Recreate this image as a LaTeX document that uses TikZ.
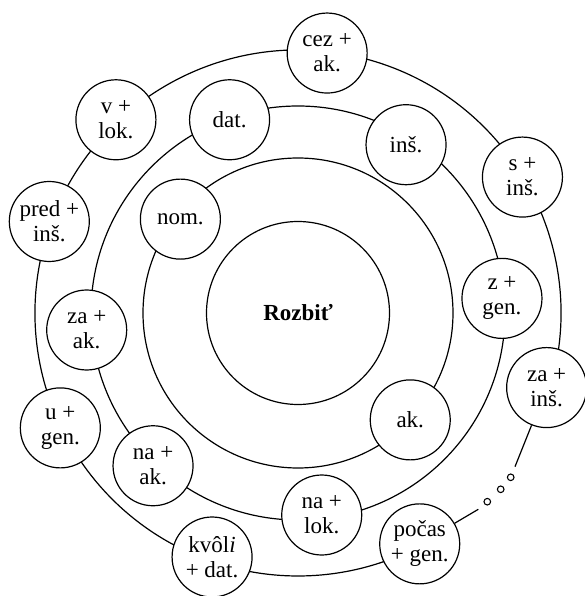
\documentclass[tikz,border=0pt]{standalone}
\usepackage{fontspec}
\setmainfont{Liberation Serif}
\tikzset{
  ring/.style={line width=1.2pt},
  casebox/.style={circle,draw,line width=1.2pt,fill=white,minimum size=80pt,
    inner sep=0pt,align=center,font=\fontsize{23}{25}\selectfont},
  verbbox/.style={circle,draw,line width=1.2pt,fill=white,minimum size=183pt,
    inner sep=0pt,font=\bfseries\fontsize{23}{25}\selectfont},
  gapdot/.style={line width=1.1pt}
}
\begin{document}
\begin{tikzpicture}[x=1pt,y=1pt]
\useasboundingbox (-298,-283) rectangle (287,313);
\coordinate (origin) at (0,0);
% Draw rings
\draw[ring] (origin) circle [radius=155];
\draw[ring] (origin) circle [radius=207];
\draw[ring] (-16.7:263) arc [start angle=-16.7, end angle=297.8, radius=263];
% Verb in the middle
\node[verbbox] (verb) at (origin) {Rozbi\v{t}};
% Inner ring
\node[casebox] (nom) at (141.4:150.5) {nom.};
\node[casebox] (ak) at (316.4:155) {ak.};
% Middle ring
\node[casebox] (dat) at (109.5:205) {dat.};
\node[casebox] (ins) at (57.3:200) {inš.};
\node[casebox] (zGen) at (4.1:204.5) {z +\\gen.};
\node[casebox] (naLok) at (276.7:203.4) {na +\\lok.};
\node[casebox] (naAk) at (226.5:210.6) {na +\\ak.};
\node[casebox] (zaAk) at (184.6:212) {za +\\ak.};
% Outer ring
\node[casebox] (cezAk) at (83.6:261.6) {cez +\\ak.};
\node[casebox] (sIns) at (31.2:262.4) {s +\\inš.};
\node[casebox] (zaIns) at (343.3:259.6) {za +\\inš.};
\node[casebox] (pocasGen) at (297.8:261) {počas\\+ gen.};
\node[casebox] (kvoliDat) at (250.6:258.7) {kvôl\textit{i}\\+ dat.};
\node[casebox] (uGen) at (205.8:264) {u +\\gen.};
\node[casebox] (predIns) at (159.8:265) {pred +\\inš.};
\node[casebox] (vLok) at (133.3:265.5) {v +\\lok.};
% Open end of the outer ring
\coordinate (gapA) at (217,-153.7);
\coordinate (gapB) at (180.3,-196.3);
\coordinate (dotA) at (212.7,-164.3);
\coordinate (dotB) at (202.7,-176.3);
\coordinate (dotC) at (189.3,-188.7);
\draw[ring] (zaIns) -- (gapA);
\draw[ring] (pocasGen) -- (gapB);
\draw[gapdot] (dotA) circle [radius=3.3];
\draw[gapdot] (dotB) circle [radius=3.3];
\draw[gapdot] (dotC) circle [radius=3.3];
\end{tikzpicture}
\end{document}
